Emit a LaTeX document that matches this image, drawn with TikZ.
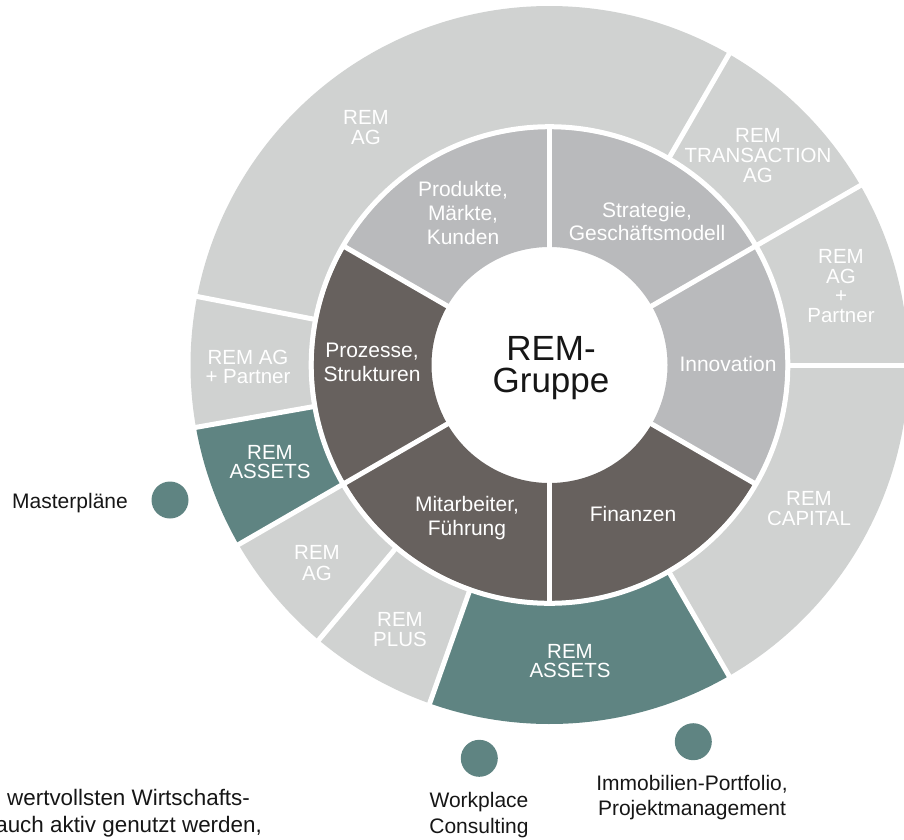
\documentclass[tikz,border=0pt]{standalone}
\usepackage{fontspec}
\setmainfont{Liberation Sans}
\definecolor{outerg}{HTML}{D0D2D1}
\definecolor{innerg}{HTML}{B9BABC}
\definecolor{darkg}{HTML}{67615E}
\definecolor{remteal}{HTML}{5F8482}
\definecolor{txt}{HTML}{161616}
\newcommand\remsector[5]{\fill[#1] (#2:#4) arc[start angle=#2,end angle=#3,radius=#4] -- (#3:#5) arc[start angle=#3,end angle=#2,radius=#5] -- cycle;}
\tikzset{
  sep/.style={draw=white, line width=5pt},
  olab/.style={text=white, font=\fontsize{20.5}{20}\selectfont, inner sep=0pt, anchor=base},
  ilab/.style={text=white, font=\fontsize{21}{24}\selectfont, inner sep=0pt, anchor=base},
  blab/.style={text=txt, font=\fontsize{21}{25}\selectfont, inner sep=0pt, anchor=base},
  plab/.style={text=txt, font=\fontsize{22.4}{26}\selectfont, inner sep=0pt},
  clab/.style={text=txt, font=\fontsize{35}{32}\selectfont, inner sep=0pt, anchor=base},
  dot/.style={circle, fill=remteal, minimum size=37pt, inner sep=0pt}
}
\begin{document}
\begin{tikzpicture}[x=1pt,y=-1pt]
\useasboundingbox (0,0) rectangle (904,839);
\begin{scope}[shift={(549.5,365)}, y=1pt]
  % inner ring
  \remsector{innerg}{90}{150}{118}{240}
  \remsector{innerg}{30}{90}{118}{240}
  \remsector{innerg}{-30}{30}{118}{240}
  \remsector{darkg}{-90}{-30}{118}{240}
  \remsector{darkg}{-150}{-90}{118}{240}
  \remsector{darkg}{150}{210}{118}{240}
  % outer ring
  \remsector{outerg}{60}{169}{236}{359}
  \remsector{outerg}{30}{60}{236}{359}
  \remsector{outerg}{0}{30}{236}{359}
  \remsector{outerg}{-60}{0}{236}{359}
  \remsector{remteal}{-109.5}{-60}{236}{359}
  \remsector{outerg}{-130}{-109.5}{236}{359}
  \remsector{outerg}{-150}{-130}{236}{359}
  \remsector{remteal}{190}{210}{236}{359}
  \remsector{outerg}{169}{190}{236}{359}
  % separators
  \draw[sep] (0,0) circle[radius=238.3];
  \foreach \a in {90,30,-30,-90,-150,150}{\draw[sep] (\a:110) -- (\a:238);}
  \foreach \a in {60,30,0,-60,-109.5,-130,-150,190,169}{\draw[sep] (\a:238) -- (\a:364);}
\end{scope}

% centre
\node[clab] (c1) at (551,360) {REM-};
\node[clab] (c2) at (551,392) {Gruppe};

% inner labels
\node[ilab] (p1) at (463,196) {Produkte,};
\node[ilab] (p2) at (463,220) {Märkte,};
\node[ilab] (p3) at (463,244) {Kunden};
\node[ilab] (s1) at (647,217) {Strategie,};
\node[ilab] (s2) at (647,240) {Geschäftsmodell};
\node[ilab] (in1) at (728,371) {Innovation};
\node[ilab] (f1) at (633,521) {Finanzen};
\node[ilab] (m1) at (467,511) {Mitarbeiter,};
\node[ilab] (m2) at (467,535) {Führung};
\node[ilab] (z1) at (372,357) {Prozesse,};
\node[ilab] (z2) at (372,381) {Strukturen};

% outer labels
\node[olab] (a1) at (366,124) {REM};
\node[olab] (a2) at (366,144) {AG};
\node[olab] (t1) at (758,142) {REM};
\node[olab] (t2) at (758,162) {TRANSACTION};
\node[olab] (t3) at (758,182) {AG};
\node[olab] (r1) at (841,263) {REM};
\node[olab] (r2) at (841,283) {AG};
\node[olab] (r3) at (841,302) {+};
\node[olab] (r4) at (841,322) {Partner};
\node[olab] (k1) at (809,505) {REM};
\node[olab] (k2) at (809,525) {CAPITAL};
\node[olab] (b1) at (570,658) {REM};
\node[olab] (b2) at (570,677) {ASSETS};
\node[olab] (u1) at (400,626) {REM};
\node[olab] (u2) at (400,646) {PLUS};
\node[olab] (g1) at (317,559) {REM};
\node[olab] (g2) at (317,580) {AG};
\node[olab] (e1) at (270,459) {REM};
\node[olab] (e2) at (270,478) {ASSETS};
\node[olab] (l1) at (248,364) {REM AG};
\node[olab] (l2) at (248,383) {+ Partner};

% dots and their labels
\node[dot] (d1) at (170,500) {};
\node[dot] (d2) at (479.3,758.3) {};
\node[dot] (d3) at (693.3,741.7) {};
\node[blab, anchor=base east] (ma) at (128,508) {Masterpläne};
\node[blab] (w1) at (479,807) {Workplace};
\node[blab] (w2) at (479,833) {Consulting};
\node[blab] (i1) at (692,790) {Immobilien-Portfolio,};
\node[blab] (i2) at (692,815) {Projektmanagement};
\node[plab, anchor=base west] (x1) at (7,805) {wertvollsten Wirtschafts-};
\node[plab, anchor=base east] (x2) at (262,832) {auch aktiv genutzt werden,};
\end{tikzpicture}
\end{document}
